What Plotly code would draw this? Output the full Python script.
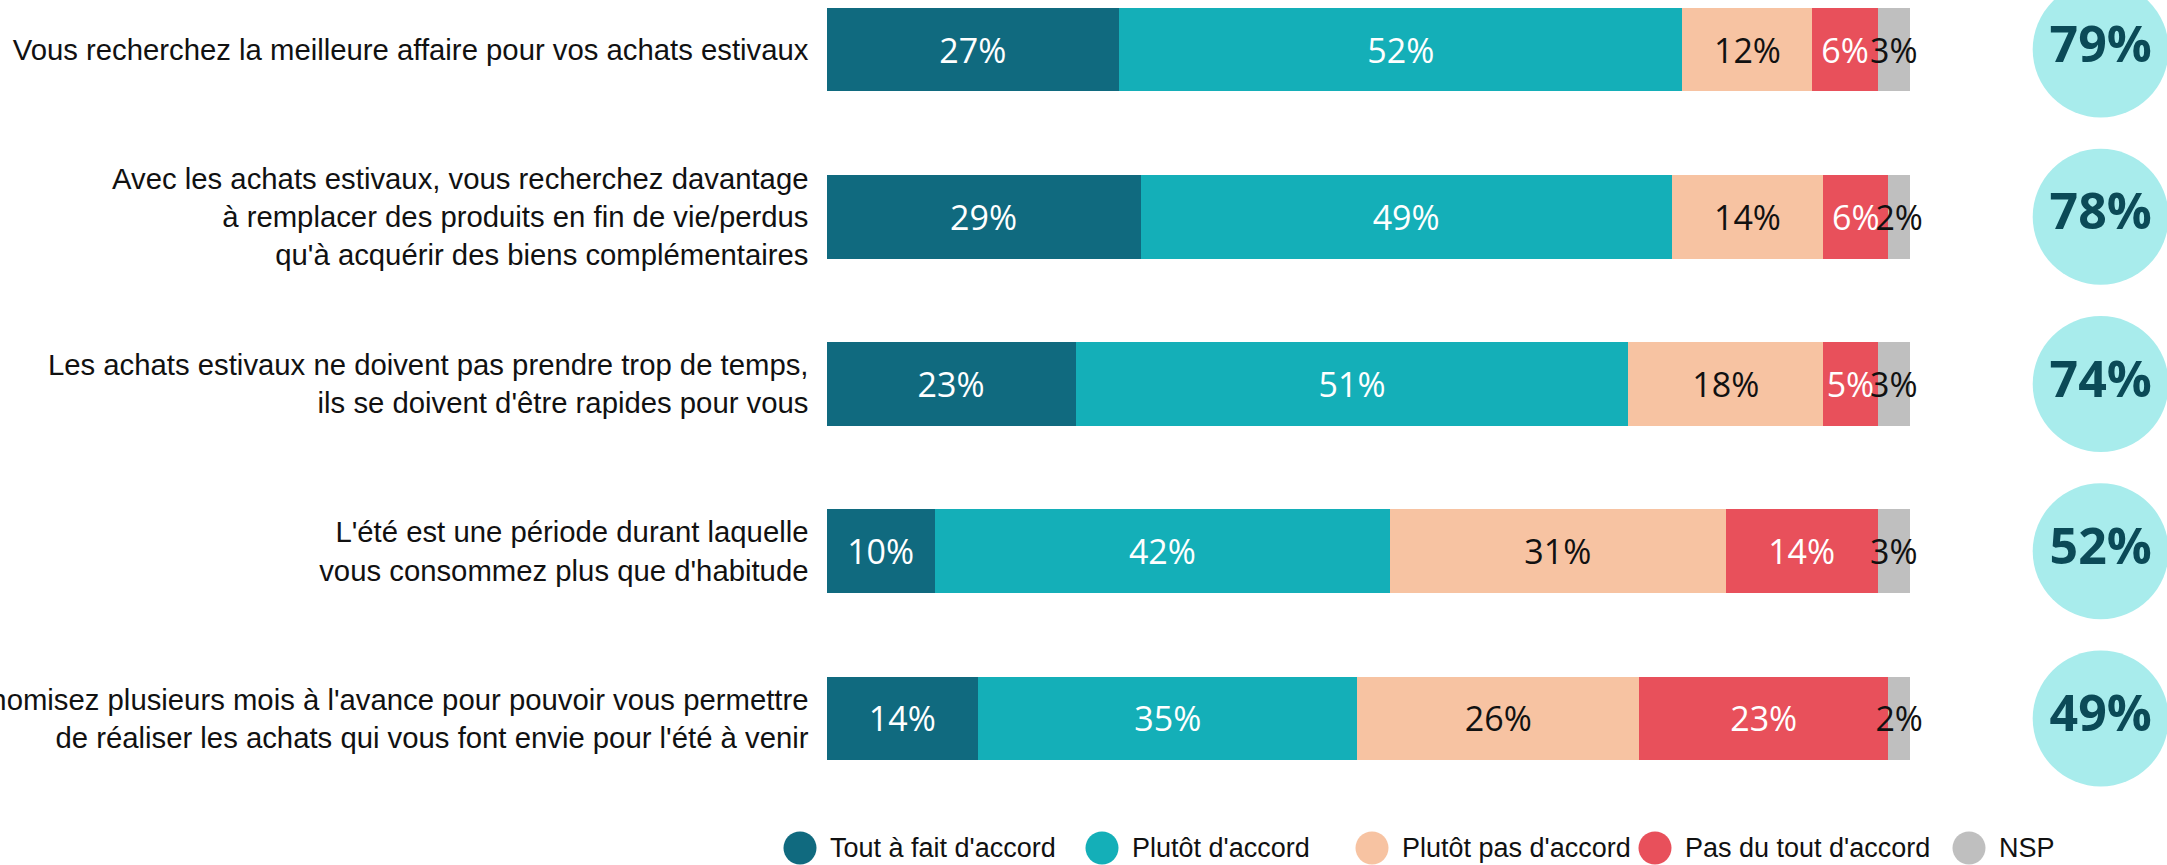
import plotly.graph_objects as go

# données
statements = [
    "Vous recherchez la meilleure affaire pour vos achats estivaux",
    "Avec les achats estivaux, vous recherchez davantage<br>à remplacer des produits en fin de vie/perdus<br>qu'à acquérir des biens complémentaires",
    "Les achats estivaux ne doivent pas prendre trop de temps,<br>ils se doivent d'être rapides pour vous",
    "L'été est une période durant laquelle<br>vous consommez plus que d'habitude",
    "Vous économisez plusieurs mois à l'avance pour pouvoir vous permettre<br>de réaliser les achats qui vous font envie pour l'été à venir",
]
answers = ["Tout à fait d'accord", "Plutôt d'accord", "Plutôt pas d'accord", "Pas du tout d'accord", "NSP"]
tout_a_fait = [27, 29, 23, 10, 14]
plutot = [52, 49, 51, 42, 35]
plutot_pas = [12, 14, 18, 31, 26]
pas_du_tout = [6, 6, 5, 14, 23]
nsp = [3, 2, 3, 3, 2]
series = [tout_a_fait, plutot, plutot_pas, pas_du_tout, nsp]

# total "d'accord" (cercles à droite)
totals = [a + b for a, b in zip(tout_a_fait, plutot)]

colors = ["#106a7f", "#14afb8", "#f7c3a2", "#e8505b", "#bfbfbf"]
text_colors = ["white", "white", "#111111", "white", "#111111"]

W, H = 2167, 865
TXT_FONT = "Liberation Sans, Arial, sans-serif"
NUM_FONT = "Open Sans, Liberation Sans, sans-serif"

fig = go.Figure()

for vals, name, col, tcol in zip(series, answers, colors, text_colors):
    fig.add_trace(go.Bar(
        y=statements, x=vals, name=name, orientation="h",
        marker=dict(color=col, line=dict(width=0)),
        text=[f"{v}%" for v in vals], textposition="inside",
        insidetextanchor="middle", textangle=0, constraintext="none",
        textfont=dict(family=NUM_FONT, size=34, color=tcol),
        showlegend=False, hoverinfo="skip",
    ))

# cercles avec le total d'accord
fig.add_trace(go.Scatter(
    y=statements, x=[117.6] * len(statements), mode="markers+text",
    marker=dict(size=136, color="#a8ecec", line=dict(width=0)),
    text=[f"<b>{t}%</b>" for t in totals], textposition="middle center",
    textfont=dict(family=NUM_FONT, size=50, color="#0b4a57"),
    cliponaxis=False, showlegend=False, hoverinfo="skip",
))

# légende faite à la main (pastilles rondes)
legend_x = [800, 1102, 1372, 1655, 1969]
legend_y = 848
for lx, name, col in zip(legend_x, answers, colors):
    fig.add_trace(go.Scatter(
        x=[lx], y=[legend_y], xaxis="x2", yaxis="y2", mode="markers",
        marker=dict(size=33, color=col), cliponaxis=False,
        showlegend=False, hoverinfo="skip",
    ))
    fig.add_annotation(
        x=lx + 28, y=legend_y, xref="x2", yref="y2", text=name,
        showarrow=False, xanchor="left", yanchor="middle",
        font=dict(family=TXT_FONT, size=27, color="#111111"),
    )

x0 = 826.5 / W
fig.update_layout(
    width=W, height=H,
    margin=dict(l=0, r=0, t=0, b=0),
    barmode="stack", bargap=0.5,
    plot_bgcolor="rgba(0,0,0,0)", paper_bgcolor="white",
    xaxis=dict(domain=[x0, 1], range=[0, (W - 826.5) / 10.835], visible=False, fixedrange=True),
    yaxis=dict(
        domain=[0, 1], range=[4.876, -0.296], type="category",
        showgrid=False, zeroline=False, showline=False, ticks="",
        ticklabelstandoff=17, automargin=False,
        tickfont=dict(family=TXT_FONT, size=29.3, color="#111111"),
    ),
    xaxis2=dict(domain=[0, 1], range=[0, W], visible=False, anchor="y2"),
    yaxis2=dict(domain=[0, 1], range=[H, 0], visible=False, anchor="x2"),
    showlegend=False,
)

# pas de marge autour de la page, pas de barre d'outils
fig.write_html(
    "out.html",
    config={"displayModeBar": False},
    post_script="document.body.style.margin='0px';",
)
